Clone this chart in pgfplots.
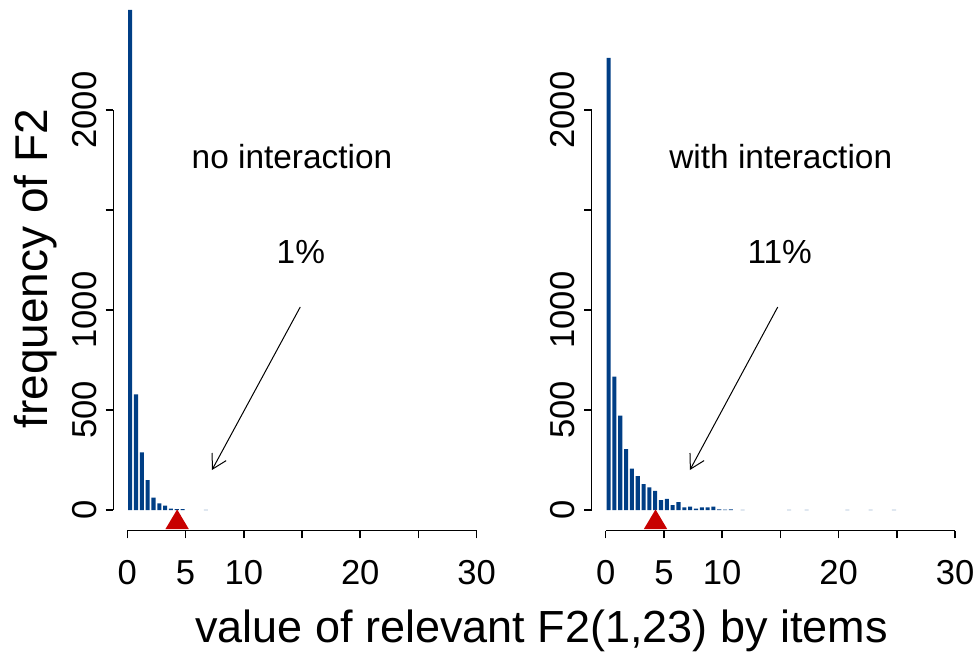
\documentclass[border=0pt]{standalone}
\usepackage{pgfplots}
\pgfplotsset{compat=1.18}
\usepackage{pgfplotstable}
\usepackage{fontspec}
\setmainfont{Liberation Sans}
\usetikzlibrary{arrows.meta}

\definecolor{barblue}{RGB}{0,62,133}
\definecolor{trired}{RGB}{200,0,0}

% histogram counts, bins of width 0.5 (centres)
\pgfplotstableread{
x y
0.25 2500
0.75 578
1.25 288
1.75 150
2.25 62
2.75 33
3.25 22
3.75 7
4.25 4
4.75 5
6.75 1
}\noint

\pgfplotstableread{
x y
0.25 2260
0.75 667
1.25 472
1.75 305
2.25 207
2.75 170
3.25 130
3.75 113
4.25 96
4.75 50
5.25 56
5.75 25
6.25 40
6.75 13
7.25 17
7.75 7
8.25 13
8.75 13
9.25 17
9.75 3
10.25 2
10.75 3
11.75 1
15.75 1
17.25 1
20.75 1
22.75 1
24.75 1
}\withint

\pgfplotsset{
  rpanel/.style={
    scale only axis, width=188.7pt, height=265.35pt,
    xmin=-1.2, xmax=31.2, ymin=-103.5, ymax=2550,
    axis x line*=bottom, axis y line*=left,
    x axis line style={draw=none}, y axis line style={draw=none},
    tick align=outside, major tick length=3.85pt,
    every tick/.style={black, line width=0.75pt},
    xtick={0,5,...,30}, xticklabels={0,5,10,,20,,30},
    ytick={0,500,...,2000}, yticklabels={0,500,1000,,2000},
    tick label style={font=\fontsize{17.3}{20}\selectfont},
    /pgf/number format/assume math mode=true,
    yticklabel style={rotate=90, anchor=south},
    xticklabel shift=7.5pt, yticklabel shift=1pt,
    clip=false,
  },
  histbar/.style={ybar, bar width=0.35, bar shift=0pt, fill=barblue, draw=none},
}

\newcommand{\rlines}{%
  \draw[line width=0.75pt] (axis cs:0,-103.5) -- (axis cs:30,-103.5);
  \draw[line width=0.75pt] (axis cs:-1.2,0) -- (axis cs:-1.2,2000);
}

\begin{document}
\begin{tikzpicture}
\useasboundingbox (-56.65pt,-61.65pt) rectangle (431.85pt,265.35pt);

\begin{axis}[rpanel, at={(0pt,0pt)}, anchor=south west]
\addplot[histbar] table {\noint};
\addplot[fill=trired, draw=none] coordinates {(3.28,-95) (5.28,-95) (4.28,3)} -- cycle;
\rlines
\node[font=\fontsize{16.7}{20}\selectfont] at (axis cs:14.14,1765) {no interaction};
\node[font=\fontsize{16.7}{20}\selectfont] at (axis cs:14.9,1290) {1\%};
\draw[line width=0.5pt, -{Straight Barb[length=7pt,width=8pt]}] (axis cs:14.85,1015) -- (axis cs:7.27,200);
\end{axis}

\begin{axis}[rpanel, at={(239.2pt,0pt)}, anchor=south west]
\addplot[histbar] table {\withint};
\addplot[fill=trired, draw=none] coordinates {(3.28,-95) (5.28,-95) (4.28,3)} -- cycle;
\rlines
\node[font=\fontsize{16.7}{20}\selectfont] at (axis cs:15.03,1765) {with interaction};
\node[font=\fontsize{16.7}{20}\selectfont] at (axis cs:14.94,1290) {11\%};
\draw[line width=0.5pt, -{Straight Barb[length=7pt,width=8pt]}] (axis cs:14.77,1015) -- (axis cs:7.23,200);
\end{axis}

\node[rotate=90, font=\fontsize{23}{27}\selectfont] at (-39pt,131pt) {frequency of F2};
\node[font=\fontsize{22.5}{27}\selectfont] at (214.1pt,-50pt) {value of relevant F2(1,23) by items};
\end{tikzpicture}
\end{document}
